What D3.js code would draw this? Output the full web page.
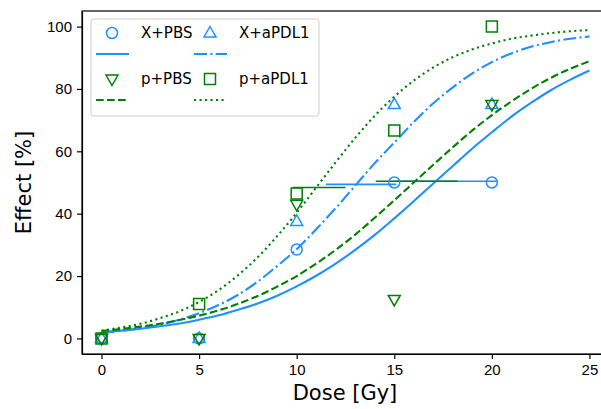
<!DOCTYPE html>
<meta charset="utf-8">
<style>
body { margin: 0; background: #fff; }
svg { font-family: "DejaVu Sans", sans-serif; }
.axis text { font-size: 15px; fill: #000; }
.axis path, .axis line { stroke: #000; stroke-width: 1.2; }
</style>
<body>
<svg width="601" height="409"></svg>
<script src="https://d3js.org/d3.v7.min.js"></script>
<script>
// measured points
var doses = [0, 5, 10, 15, 20];
var xPBS    = [0, 0, 28.5, 50, 50];
var xPDL1   = [0, 0, 37.5, 75, 75];
var pPBS    = [0, 0, 43, 12.5, 75];
var pPDL1   = [0, 11, 46.5, 66.7, 100];

// fitted curves at every Gy
var curveDoses = d3.range(0, 26);
var fitXPBS  = [2.0,2.5,3.1,3.9,4.8,6.0,7.4,9.2,11.2,13.7,16.7,20.1,24.0,28.4,33.2,38.5,44.0,49.7,55.3,60.9,66.1,71.1,75.5,79.5,82.9,85.9];
var fitXPDL1 = [1.8,2.4,3.3,4.4,6.0,8.1,10.7,14.0,18.2,23.2,28.6,35.0,41.8,49.0,56.2,62.8,69.4,75.4,80.5,85.0,88.6,91.4,93.5,95.0,96.1,96.8];
var fitPPBS  = [2.4,3.0,3.8,4.7,5.9,7.3,9.0,11.1,13.6,16.6,20.0,24.0,28.4,33.3,38.7,44.3,50.0,55.7,61.3,66.7,71.6,76.0,80.0,83.5,86.4,88.9];
var fitPPDL1 = [2.5,3.5,4.7,6.5,8.7,11.7,15.5,20.3,26.0,32.8,40.3,48.4,56.5,64.3,71.4,77.5,82.7,86.9,90.2,92.7,94.6,96.1,97.1,97.9,98.5,98.9];

// ED50 intervals (dose lo, dose hi, effect level)
var edLo  = [15.0, 11.5, 14.05, 9.8];
var edHi  = [20.3, 15.1, 18.25, 12.5];
var edY   = [50.4, 49.4, 50.4, 48.4];

var labels = ["X+PBS", "X+aPDL1", "p+PBS", "p+aPDL1"];

var blue = "#1e90ff", green = "#008000";
var series = [
  {name: labels[0], pts: xPBS,  fit: fitXPBS,  color: blue,  marker: "circle",   dash: null},
  {name: labels[1], pts: xPDL1, fit: fitXPDL1, color: blue,  marker: "triUp",    dash: "13,3.3,2.1,3.3"},
  {name: labels[2], pts: pPBS,  fit: fitPPBS,  color: green, marker: "triDown",  dash: "7.7,3.3"},
  {name: labels[3], pts: pPDL1, fit: fitPPDL1, color: green, marker: "square",   dash: "2.1,3.4"}
];

var svg = d3.select("svg");
var mLeft = 82, mRight = 608, mTop = 11, mBottom = 354;

var x = d3.scaleLinear().domain([-1, 25.95]).range([mLeft, mRight]);
var y = d3.scaleLinear().domain([-5, 105]).range([mBottom, mTop]);

function markerPath(type) {
  if (type === "circle") return d3.symbol(d3.symbolCircle, 95)();
  if (type === "square") return "M-5.5,-5.5H5.5V5.5H-5.5Z";
  if (type === "triUp") return "M0,-6.5L6,4L-6,4Z";
  return "M0,6.5L6,-4L-6,-4Z";
}

// curves
var line = d3.line()
  .x(function(d) { return x(d[0]); })
  .y(function(d) { return y(d[1]); })
  .curve(d3.curveMonotoneX);

var plot = svg.append("g");

series.forEach(function(s) {
  plot.append("path")
    .datum(curveDoses.map(function(d, i) { return [d, s.fit[i]]; }))
    .attr("d", line)
    .attr("fill", "none")
    .attr("stroke", s.color)
    .attr("stroke-width", 2.1)
    .attr("stroke-dasharray", s.dash);
});

// ED50 bars
series.forEach(function(s, i) {
  plot.append("line")
    .attr("x1", x(edLo[i])).attr("x2", x(edHi[i]))
    .attr("y1", y(edY[i])).attr("y2", y(edY[i]))
    .attr("stroke", s.color)
    .attr("stroke-width", 1.6);
});

// markers
series.forEach(function(s) {
  plot.selectAll(null)
    .data(doses.map(function(d, i) { return [d, s.pts[i]]; }))
    .enter().append("path")
      .attr("d", markerPath(s.marker))
      .attr("transform", function(d) { return "translate(" + x(d[0]) + "," + y(d[1]) + ")"; })
      .attr("fill", "none")
      .attr("stroke", s.color)
      .attr("stroke-width", 1.5);
});

// axes
svg.append("g")
  .attr("class", "axis")
  .attr("transform", "translate(0," + mBottom + ")")
  .call(d3.axisBottom(x).tickValues([0, 5, 10, 15, 20, 25]).tickSize(5).tickSizeOuter(0).tickPadding(5));

svg.append("g")
  .attr("class", "axis")
  .attr("transform", "translate(" + mLeft + ",0)")
  .call(d3.axisLeft(y).tickValues([0, 20, 40, 60, 80, 100]).tickSize(5).tickSizeOuter(0).tickPadding(5));

svg.append("rect")
  .attr("x", mLeft).attr("y", mTop)
  .attr("width", mRight - mLeft).attr("height", mBottom - mTop)
  .attr("fill", "none").attr("stroke", "#000").attr("stroke-width", 1.2);

// axis titles
svg.append("text")
  .attr("x", (mLeft + mRight) / 2).attr("y", 400)
  .attr("text-anchor", "middle")
  .style("font-size", "21px")
  .text("Dose [Gy]");

svg.append("text")
  .attr("transform", "translate(31," + (mTop + mBottom) / 2 + ") rotate(-90)")
  .attr("text-anchor", "middle")
  .style("font-size", "21px")
  .text("Effect [%]");

// legend
var lg = svg.append("g");
lg.append("rect")
  .attr("x", 91).attr("y", 19).attr("width", 228).attr("height", 97)
  .attr("rx", 3)
  .attr("fill", "#fff").attr("fill-opacity", 0.8)
  .attr("stroke", "#ccc").attr("stroke-width", 1);

var colX = [112, 210], rowY = [33, 79];
series.forEach(function(s, i) {
  var cx = colX[i % 2], cy = rowY[Math.floor(i / 2)];
  lg.append("path")
    .attr("d", markerPath(s.marker))
    .attr("transform", "translate(" + cx + "," + cy + ")")
    .attr("fill", "none").attr("stroke", s.color).attr("stroke-width", 1.5);
  lg.append("text")
    .attr("x", cx + 29).attr("y", cy)
    .attr("dy", "0.35em")
    .style("font-size", "15px")
    .text(s.name);
  lg.append("line")
    .attr("x1", cx - 16).attr("x2", cx + 17)
    .attr("y1", cy + 21).attr("y2", cy + 21)
    .attr("stroke", s.color).attr("stroke-width", 2.1)
    .attr("stroke-dasharray", s.dash);
});
</script>
</body>
